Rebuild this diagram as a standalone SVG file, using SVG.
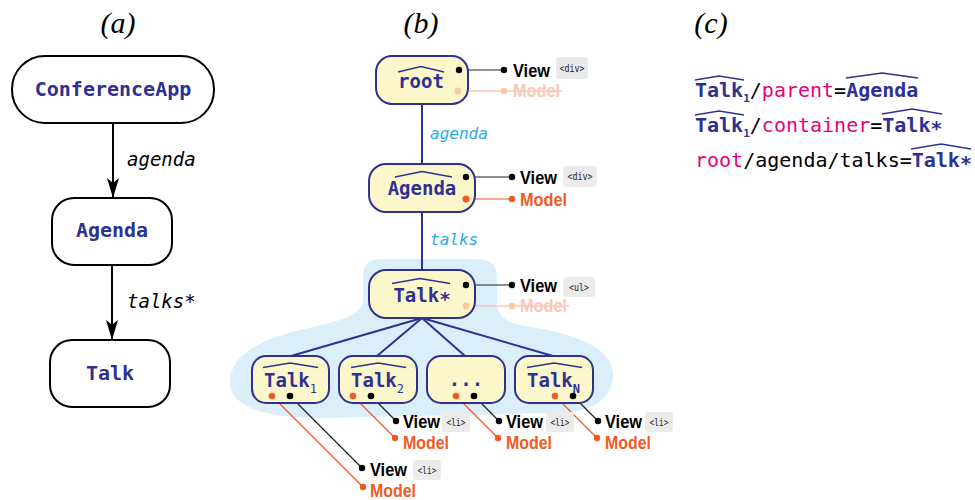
<svg xmlns="http://www.w3.org/2000/svg" width="975" height="500" viewBox="0 0 975 500">
<style>
.title{font-family:"Liberation Serif",serif;font-style:italic;font-size:30px;fill:#000}
.mono{font-family:"DejaVu Sans Mono",monospace}
.nb{fill:#2e3192;font-weight:bold}
.box{fill:#fff;stroke:#000;stroke-width:2}
.yn{fill:#fcf7cb;stroke:#2e3192;stroke-width:2}
.edge{stroke:#2e3192;stroke-width:2;fill:none}
.hat{fill:none;stroke:#2e3192;stroke-width:1.4}
.lab{font-family:"Liberation Sans",sans-serif;font-weight:bold;font-size:19px}
.vw{fill:#000}
.md{fill:#f15a24}
.mf{fill:#f9c9b8}
.tagr{fill:#ebebeb}
.tagt{font-family:"DejaVu Sans Mono",monospace;font-size:10.5px;fill:#222;text-anchor:middle}
.bl{stroke:#222;stroke-width:1.2}
.ol{stroke:#f15a24;stroke-width:1.2}
.fl{stroke:#f9c9b8;stroke-width:1.5}
.bd{fill:#000}
.od{fill:#f15a24}
.fd{fill:#fcc8a0}
.elab{font-family:"DejaVu Sans Mono",monospace;font-style:italic;font-size:19px;fill:#000}
.blab{font-family:"DejaVu Sans Mono",monospace;font-style:italic;font-size:16px;fill:#29abe2}
</style>
<defs>
<marker id="arr" viewBox="0 0 20 12" markerWidth="20" markerHeight="12" refX="20" refY="6" orient="auto" markerUnits="userSpaceOnUse">
<path d="M0,0 L20,6 L0,12 L5,6 Z" fill="#000"/>
</marker>
</defs>

<rect width="975" height="500" fill="#fff"/>

<!-- titles -->
<text class="title" x="118" y="33" text-anchor="middle">(a)</text>
<text class="title" x="421" y="33" text-anchor="middle">(b)</text>
<text class="title" x="711" y="33" text-anchor="middle">(c)</text>

<!-- blob -->
<path id="blob" d="M380,259 L478,259 Q497,259 497,278 L497,305 Q498,320 520,325 C570,333 613,345 613,375 C613,400 590,413 555,413 L320,418 C260,418 230,405 230,382 C230,355 260,340 300,330 C345,320 362,315 363,300 L363,276 Q363,259 380,259 Z" fill="#dbeffa"/>

<!-- connectors -->
<g id="connectors">
<line x1="113" y1="123" x2="113" y2="198" stroke="#000" stroke-width="2" marker-end="url(#arr)"/>
<line x1="112" y1="265" x2="112" y2="340" stroke="#000" stroke-width="2" marker-end="url(#arr)"/>
<text class="elab" x="127" y="166">agenda</text>
<text class="elab" x="127" y="308">talks*</text>

<line class="edge" x1="422" y1="104" x2="422" y2="164"/>
<line class="edge" x1="422" y1="212" x2="422" y2="270"/>
<text class="blab" x="430" y="139">agenda</text>
<text class="blab" x="430" y="245">talks</text>
<line class="edge" x1="422" y1="318" x2="291" y2="356"/>
<line class="edge" x1="422" y1="318" x2="377" y2="356"/>
<line class="edge" x1="422" y1="318" x2="465" y2="356"/>
<line class="edge" x1="422" y1="318" x2="553" y2="356"/>

<line class="bl" x1="459" y1="70" x2="504" y2="70"/>
<line class="fl" x1="458" y1="91" x2="562" y2="91"/>
<line class="bl" x1="466" y1="177" x2="512" y2="177"/>
<line class="ol" x1="466" y1="199" x2="512" y2="199"/>
<line class="bl" x1="466" y1="285" x2="512" y2="285"/>
<line class="fl" x1="466" y1="306" x2="569" y2="306"/>
<line class="bl" x1="290" y1="396" x2="362" y2="468"/>
<line class="ol" x1="272" y1="396" x2="363" y2="487"/>
<line class="bl" x1="371" y1="396" x2="396" y2="421"/>
<line class="ol" x1="353" y1="396" x2="395" y2="438"/>
<line class="bl" x1="474" y1="396" x2="499" y2="421"/>
<line class="ol" x1="456" y1="396" x2="498" y2="438"/>
<line class="bl" x1="573" y1="396" x2="598" y2="421"/>
<line class="ol" x1="555" y1="396" x2="597" y2="438"/>
</g>

<!-- panel a nodes -->
<g id="a-conferenceapp">
<rect class="box" x="12" y="56" width="202" height="67" rx="33"/>
<text class="mono nb" x="113" y="96" font-size="20" text-anchor="middle">ConferenceApp</text>
</g>
<g id="a-agenda">
<rect class="box" x="52" y="198" width="120" height="67" rx="22"/>
<text class="mono nb" x="112" y="237" font-size="20" text-anchor="middle">Agenda</text>
</g>
<g id="a-talk">
<rect class="box" x="50" y="340" width="120" height="67" rx="22"/>
<text class="mono nb" x="110" y="380" font-size="20" text-anchor="middle">Talk</text>
</g>

<!-- panel b nodes -->
<g id="b-root">
<rect class="yn" x="376" y="56" width="92" height="48" rx="16"/>
<path class="hat" d="M398,72 L421,66.5 L444,72"/>
<text class="mono nb" x="421" y="88" font-size="19" text-anchor="middle">root</text>
<circle class="bd" cx="459" cy="70" r="3.2"/>
<circle class="fd" cx="458" cy="91" r="3.5"/>
<circle class="bd" cx="504" cy="70" r="3.2"/>
<circle class="fd" cx="504" cy="91" r="3.2"/>
<text class="lab vw" x="513" y="77" textLength="37" lengthAdjust="spacingAndGlyphs">View</text>
<rect class="tagr" x="556" y="57" width="32" height="22" rx="3"/>
<text class="tagt" x="572" y="72" textLength="25" lengthAdjust="spacingAndGlyphs">&lt;div&gt;</text>
<text class="lab mf" x="513" y="97" textLength="47" lengthAdjust="spacingAndGlyphs">Model</text>
</g>

<g id="b-agenda">
<rect class="yn" x="369" y="164" width="106" height="48" rx="17"/>
<path class="hat" d="M395,177 L422,171.5 L452,177"/>
<text class="mono nb" x="422" y="195" font-size="19" text-anchor="middle">Agenda</text>
<circle class="bd" cx="466" cy="177" r="3.2"/>
<circle class="od" cx="466" cy="199" r="3.5"/>
<circle class="bd" cx="512" cy="177" r="3.2"/>
<circle class="od" cx="512" cy="199" r="3.2"/>
<text class="lab vw" x="520" y="184" textLength="37" lengthAdjust="spacingAndGlyphs">View</text>
<rect class="tagr" x="563" y="166" width="34" height="21" rx="3"/>
<text class="tagt" x="580" y="180" textLength="25" lengthAdjust="spacingAndGlyphs">&lt;div&gt;</text>
<text class="lab md" x="520" y="206" textLength="47" lengthAdjust="spacingAndGlyphs">Model</text>
</g>

<g id="b-talkstar">
<rect class="yn" x="369" y="270" width="106" height="48" rx="17"/>
<path class="hat" d="M392,283.5 L420,278.5 L450,283.5"/>
<text class="mono nb" x="422" y="302" font-size="19" text-anchor="middle">Talk∗</text>
<circle class="bd" cx="466" cy="285" r="3.2"/>
<circle class="fd" cx="466" cy="306" r="3.5"/>
<circle class="bd" cx="512" cy="285" r="3.2"/>
<circle class="fd" cx="512" cy="306" r="3.2"/>
<text class="lab vw" x="520" y="292" textLength="37" lengthAdjust="spacingAndGlyphs">View</text>
<rect class="tagr" x="563" y="277" width="32" height="20" rx="3"/>
<text class="tagt" x="579" y="291" textLength="20" lengthAdjust="spacingAndGlyphs">&lt;ul&gt;</text>
<text class="lab mf" x="520" y="312" textLength="47" lengthAdjust="spacingAndGlyphs">Model</text>
</g>

<g id="b-talk1">
<rect class="yn" x="252" y="356" width="77" height="47" rx="14"/>
<path class="hat" d="M263,367.5 L290,363 L318,367.5"/>
<text class="mono nb" x="264" y="387" font-size="19">Talk<tspan font-size="12" dy="6" font-weight="normal">1</tspan></text>
<circle class="od" cx="272" cy="396" r="3.3"/>
<circle class="bd" cx="290" cy="396" r="3.3"/>
<circle class="bd" cx="362" cy="468" r="3.2"/>
<circle class="od" cx="363" cy="487" r="3.2"/>
<text class="lab vw" x="370" y="476" textLength="37" lengthAdjust="spacingAndGlyphs">View</text>
<rect class="tagr" x="413" y="460" width="28" height="20" rx="3"/>
<text class="tagt" x="427" y="474" textLength="19" lengthAdjust="spacingAndGlyphs">&lt;li&gt;</text>
<text class="lab md" x="370" y="497" textLength="46" lengthAdjust="spacingAndGlyphs">Model</text>
</g>

<g id="b-talk2">
<rect class="yn" x="339" y="356" width="78" height="47" rx="14"/>
<path class="hat" d="M351,367.5 L378,363 L406,367.5"/>
<text class="mono nb" x="351" y="387" font-size="19">Talk<tspan font-size="12" dy="6" font-weight="normal">2</tspan></text>
<circle class="od" cx="353" cy="396" r="3.3"/>
<circle class="bd" cx="371" cy="396" r="3.3"/>
<circle class="bd" cx="396" cy="421" r="3.2"/>
<circle class="od" cx="395" cy="438" r="3.2"/>
<text class="lab vw" x="403" y="428" textLength="37" lengthAdjust="spacingAndGlyphs">View</text>
<rect class="tagr" x="442" y="412" width="28" height="20" rx="3"/>
<text class="tagt" x="456" y="426" textLength="19" lengthAdjust="spacingAndGlyphs">&lt;li&gt;</text>
<text class="lab md" x="403" y="449" textLength="46" lengthAdjust="spacingAndGlyphs">Model</text>
</g>

<g id="b-dots">
<rect class="yn" x="427" y="356" width="78" height="47" rx="14"/>
<text class="mono nb" x="466" y="386" font-size="19" text-anchor="middle">...</text>
<circle class="od" cx="456" cy="396" r="3.3"/>
<circle class="bd" cx="474" cy="396" r="3.3"/>
<circle class="bd" cx="499" cy="421" r="3.2"/>
<circle class="od" cx="498" cy="438" r="3.2"/>
<text class="lab vw" x="506" y="428" textLength="37" lengthAdjust="spacingAndGlyphs">View</text>
<rect class="tagr" x="546" y="412" width="28" height="20" rx="3"/>
<text class="tagt" x="560" y="426" textLength="19" lengthAdjust="spacingAndGlyphs">&lt;li&gt;</text>
<text class="lab md" x="506" y="449" textLength="46" lengthAdjust="spacingAndGlyphs">Model</text>
</g>

<g id="b-talkn">
<rect class="yn" x="515" y="356" width="78" height="47" rx="14"/>
<path class="hat" d="M527,367.5 L554,363 L582,367.5"/>
<text class="mono nb" x="527" y="387" font-size="19">Talk<tspan font-size="12" dy="6">N</tspan></text>
<circle class="od" cx="555" cy="396" r="3.3"/>
<circle class="bd" cx="573" cy="396" r="3.3"/>
<circle class="bd" cx="598" cy="421" r="3.2"/>
<circle class="od" cx="597" cy="438" r="3.2"/>
<text class="lab vw" x="605" y="428" textLength="37" lengthAdjust="spacingAndGlyphs">View</text>
<rect class="tagr" x="645" y="412" width="28" height="20" rx="3"/>
<text class="tagt" x="659" y="426" textLength="19" lengthAdjust="spacingAndGlyphs">&lt;li&gt;</text>
<text class="lab md" x="605" y="449" textLength="46" lengthAdjust="spacingAndGlyphs">Model</text>
</g>

<!-- panel c -->
<g id="c-expressions">
<path class="hat" d="M695,80 L719,76 L744,80"/>
<path class="hat" d="M846,78 L882,73 L918,78"/>
<text class="mono" x="695" y="97" font-size="20"><tspan class="nb">Talk</tspan><tspan class="nb" font-size="11" font-weight="normal" dy="5">1</tspan><tspan dy="-5" fill="#000">/</tspan><tspan fill="#e6007e">parent</tspan><tspan fill="#000">=</tspan><tspan class="nb">Agenda</tspan></text>
<path class="hat" d="M695,115 L719,111 L744,115"/>
<path class="hat" d="M882,114 L912,109 L942,114"/>
<text class="mono" x="695" y="132" font-size="20"><tspan class="nb">Talk</tspan><tspan class="nb" font-size="11" font-weight="normal" dy="5">1</tspan><tspan dy="-5" fill="#000">/</tspan><tspan fill="#e6007e">container</tspan><tspan fill="#000">=</tspan><tspan class="nb">Talk∗</tspan></text>
<path class="hat" d="M911,149 L941,144 L971,149"/>
<text class="mono" x="695" y="167" font-size="20"><tspan fill="#e6007e">root</tspan><tspan fill="#000">/agenda/talks=</tspan><tspan class="nb">Talk∗</tspan></text>
</g>
</svg>
